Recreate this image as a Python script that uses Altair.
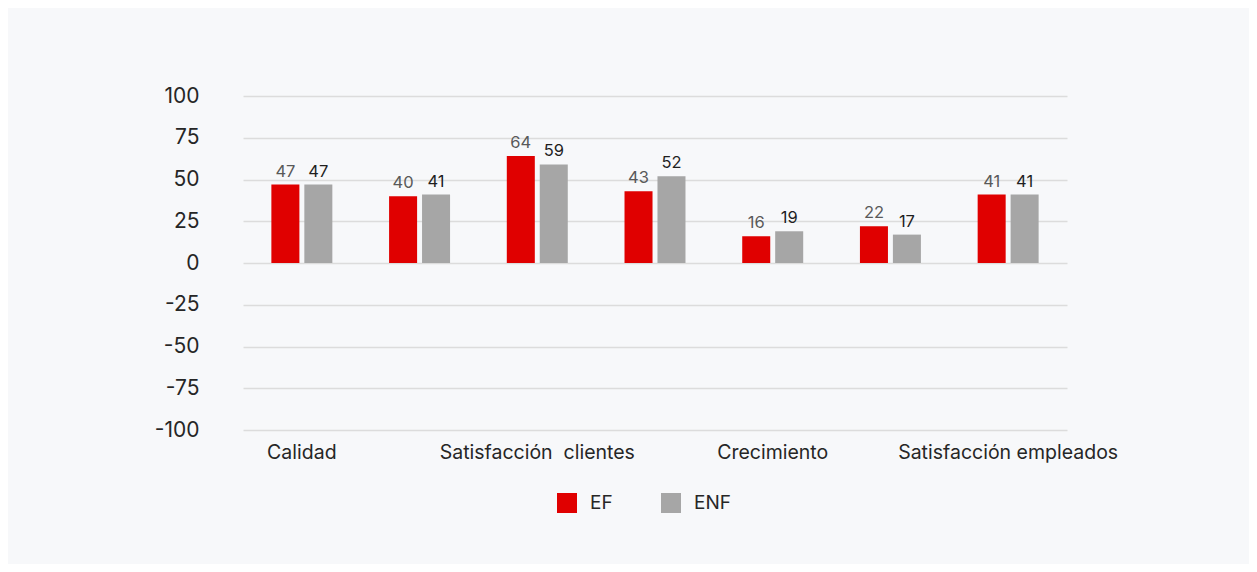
import altair as alt
import pandas as pd

categories = ["Calidad", "Productividad", "Satisfacción  clientes", "Innovación",
              "Crecimiento", "Rentabilidad", "Satisfacción empleados"]
shown_labels = ["Calidad", "Satisfacción  clientes", "Crecimiento", "Satisfacción empleados"]
series = ["EF", "ENF"]
ef_values = [47, 40, 64, 43, 16, 22, 41]
enf_values = [47, 41, 59, 52, 19, 17, 41]
y_ticks = [-100, -75, -50, -25, 0, 25, 50, 75, 100]

rows = []
for c, a, b in zip(categories, ef_values, enf_values):
    rows.append({"cat": c, "serie": "EF", "valor": a})
    rows.append({"cat": c, "serie": "ENF", "valor": b})
df = pd.DataFrame(rows)

FONT = "Inter"
label_expr = ("indexof([" + ",".join("'" + s + "'" for s in shown_labels)
              + "], datum.value) >= 0 ? replace(datum.value, '  ', ' \u00a0') : ''")

x_enc = alt.X("cat:N", sort=categories, title=None,
              scale=alt.Scale(paddingInner=0.482, paddingOuter=0.241),
              axis=alt.Axis(labelExpr=label_expr, labelAngle=0, labelFontSize=19.5,
                            labelFont=FONT, labelColor="#262626", labelPadding=13,
                            labelLimit=400, labelOverlap=False, ticks=False,
                            domain=False, grid=False))
xoff = alt.XOffset("serie:N", sort=series,
                   scale=alt.Scale(paddingInner=0.15, paddingOuter=0))
y_enc = alt.Y("valor:Q", title=None,
              scale=alt.Scale(domain=[-100, 100], nice=False, zero=False),
              axis=alt.Axis(values=y_ticks, labelFontSize=21, labelFont=FONT,
                            labelColor="#262626", labelPadding=44, ticks=False,
                            labelExpr="replace(datum.label, '\u2212', '-')",
                            domain=False, grid=True, gridColor="#dcdcdc",
                            gridWidth=1.5))

color = alt.Color("serie:N", sort=series,
                  scale=alt.Scale(domain=series, range=["#e00000", "#a6a6a6"]),
                  legend=alt.Legend(title=None, orient="none", direction="horizontal",
                                    legendX=314, legendY=397, symbolType="square",
                                    symbolSize=400, symbolStrokeWidth=0,
                                    labelFontSize=19, labelFont=FONT,
                                    labelColor="#262626", labelOffset=13,
                                    columnPadding=48))

bars = alt.Chart(df).mark_bar().encode(x=x_enc, xOffset=xoff, y=y_enc, color=color)

text = alt.Chart(df).mark_text(baseline="bottom", dy=-5, fontSize=16.5, font=FONT).encode(
    x=alt.X("cat:N", sort=categories),
    xOffset=alt.XOffset("serie:N", sort=series),
    y="valor:Q",
    text=alt.Text("valor:Q"),
    color=alt.Color("serie:N", sort=series,
                    scale=alt.Scale(domain=series, range=["#595959", "#1f1f1f"]),
                    legend=None),
)

chart = alt.layer(bars, text).resolve_scale(color="independent").properties(
    width=824, height=334,
    background="#f7f8fa",
    autosize=alt.AutoSizeParams(type="none"),
    padding={"left": 235, "top": 88, "right": 182, "bottom": 134},
).configure_view(stroke=None)

chart.save("out.html", embed_options={"renderer": "svg", "actions": False})
